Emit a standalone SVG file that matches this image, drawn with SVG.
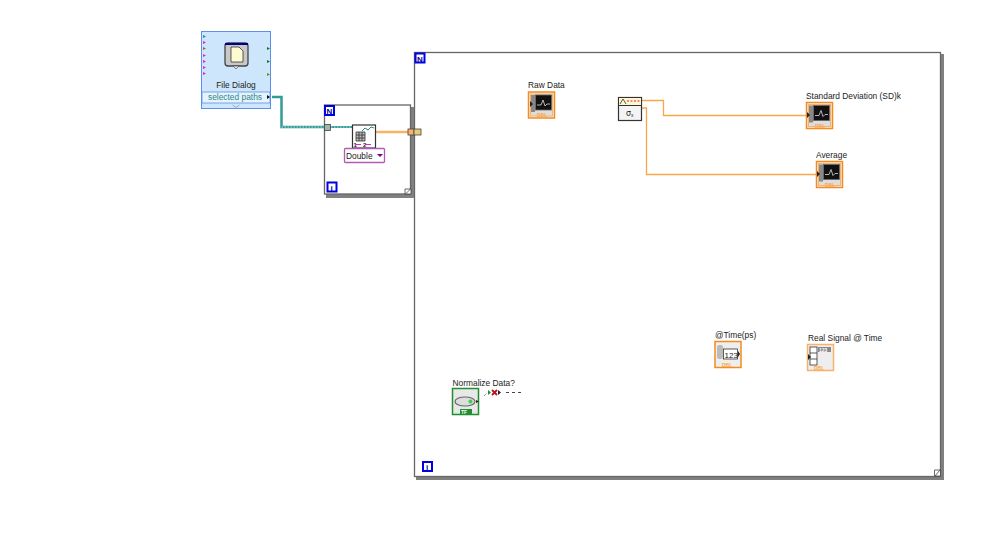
<svg xmlns="http://www.w3.org/2000/svg" width="999" height="539" viewBox="0 0 999 539">
<style>
text{font-family:"Liberation Sans",Arial,sans-serif;font-size:8.4px;fill:#222}
.w{fill:none;stroke:#f9a64a;stroke-width:1.3}
.frame{fill:#fff;stroke:#666;stroke-width:1.300}
.shade{fill:#808080}
.lbl{fill:#fff;stroke:#0000e0;stroke-width:2}
.lt{font-family:"Liberation Sans",Arial,sans-serif;font-size:8px;font-weight:bold;fill:#0000a0}
.ob{fill:#eee;stroke:#f58b1f;stroke-width:1.5}
.ob2{fill:#ddd;stroke:#f9b26a;stroke-width:1}
.screen{fill:#111;stroke:#666;stroke-width:.8}
.tr{fill:none;stroke:#ddd;stroke-width:.8}
.tf{font-size:5px;font-weight:bold;fill:#fff}
.pal{fill:#888}
</style>
<rect width="999" height="539" fill="#fff"/>

<g id="loop-outer">
<rect class="shade" x="416" y="54" width="528" height="426"/>
<rect class="frame" x="414.5" y="52.5" width="526" height="424"/>
<rect class="lbl" x="415.5" y="53.5" width="9" height="9"/><text class="lt" x="417" y="61.500">N</text>
<rect class="lbl" x="423" y="462" width="9" height="9"/><text class="lt" x="426" y="470">i</text>
<path d="M934.500 476V470H940.500V476Z" fill="#fff" stroke="#444" stroke-width=".8"/><path d="M935 476L940 470" stroke="#444" stroke-width=".8"/>
</g>

<g id="loop-inner">
<rect class="shade" x="326" y="107" width="88" height="91"/>
<rect class="frame" x="324.500" y="105" width="86" height="89"/>
<rect class="lbl" x="325" y="106" width="9" height="9"/><text class="lt" x="326.500" y="114">N</text>
<rect class="lbl" x="327.500" y="182.500" width="9" height="9"/><text class="lt" x="330.500" y="190.500">i</text>
<path d="M405 194V189H411V194Z" fill="#fff" stroke="#444" stroke-width=".8"/><path d="M405.500 194L410.500 189" stroke="#444" stroke-width=".8"/>
</g>

<g id="connectors">
<path d="M272 97H281.500V127H325" fill="none" stroke="#2f9c95" stroke-width="2.500"/>
<path d="M281.500 127H325" fill="none" stroke="#fff" stroke-width=".7" stroke-dasharray="1.500 1.500"/>
<path d="M328 127H352" fill="none" stroke="#2f9c95" stroke-width="2"/>
<path d="M328 127H352" fill="none" stroke="#fff" stroke-width=".7" stroke-dasharray="1.500 1.500"/>
<path d="M375 132H408" fill="none" stroke="#f9b26a" stroke-width="2.500"/>
<path class="w" d="M641 100.500H663.500V115.500H806"/>
<path class="w" d="M641 108H646.500V174.500H816"/>
<path d="M484 396L487 393" stroke="#555" stroke-dasharray="1 1" fill="none"/>
<path d="M506 392.500H522" stroke="#444" stroke-dasharray="3 3" fill="none"/>
</g>

<g id="file-dialog">
<rect x="201.500" y="31.500" width="69" height="77" fill="#cde6fb" stroke="#5b8fe8"/>
<rect x="202" y="92" width="68" height="11" fill="#e6f3fd" stroke="#5b8fe8" stroke-width=".8"/>
<path d="M232.500 105L236 107.500L239.500 105" fill="none" stroke="#99a" stroke-width=".8"/>
<rect x="225" y="43" width="23" height="23" rx="3" fill="#c8c8c8" stroke="#444" stroke-width="1.300"/>
<rect x="225" y="43" width="23" height="2" fill="#00008b"/>
<path d="M231 47H239L243 51V62H231Z" fill="#fffbd0" stroke="#333" stroke-width=".8"/>
<path d="M233 66L236 69L239 66Z" fill="#ddd" stroke="#444" stroke-width=".6"/>
<path d="M203 35l3 1.500l-3 1.500Z" fill="#1d8f95"/>
<g fill="#e81fd8"><path d="M203 41l3 1.500l-3 1.500Z"/><path d="M203 54l3 1.500l-3 1.500Z"/><path d="M203 60l3 1.500l-3 1.500Z"/><path d="M203 66l3 1.500l-3 1.500Z"/><path d="M203 72l3 1.500l-3 1.500Z"/></g>
<path d="M203 47l3 1.500l-3 1.500Z" fill="#8a7a10"/>
<path d="M267 47l3 1.500l-3 1.500ZM267 60l3 1.500l-3 1.500Z" fill="#0a7a20"/>
<path d="M267 73l3 1.500l-3 1.500Z" fill="#8a7a10"/>
<text x="236" y="88" text-anchor="middle">File Dialog</text>
<text x="235" y="100" text-anchor="middle" style="fill:#2a8a88">selected paths</text>
<path d="M267 95l3 2l-3 2Z" fill="#111"/>
</g>

<g id="tunnel-in"><rect x="324.500" y="124.500" width="6" height="6" fill="#9db8a8" stroke="#444" stroke-width=".8"/></g>

<g id="read-file">
<rect x="352.500" y="125" width="23" height="23" fill="#fff" stroke="#333" stroke-width="1.200"/>
<rect x="356" y="132" width="9" height="9" fill="#bbb"/>
<path d="M356 132h9v9h-9ZM356 135h9M356 138h9M359 132v9M362 132v9" fill="none" stroke="#333" stroke-width=".8"/>
<path d="M362 131l3-3l3 2l3-3l3 1" fill="none" stroke="#2a8a88"/>
<text x="353.500" y="147" style="font-size:6px;font-weight:bold">1</text><text x="363" y="147" style="font-size:6px;font-weight:bold">2</text>
<path d="M356 144.500h5M366 144.500h5" stroke="#e81fd8"/>
</g>
<g id="double-selector">
<rect x="344.500" y="148.500" width="40" height="14" rx="1" fill="#fff" stroke="#b05cb0" stroke-width="1.300"/>
<text x="346" y="158.500">Double</text>
<path d="M377 154h6l-3 3Z" fill="#800080"/>
</g>
<g id="tunnel-out">
<rect x="408" y="129" width="6" height="6" fill="#f9b26a" stroke="#444" stroke-width=".8"/>
<rect x="414" y="129" width="7" height="6" fill="#e8c87a" stroke="#444" stroke-width=".8"/>
</g>

<g id="raw-data">
<text x="528" y="88">Raw Data</text>
<rect class="ob" x="528.500" y="92" width="26" height="26"/><rect class="ob2" x="530.500" y="94" width="22" height="22"/>
<rect class="pal" x="531" y="95" width="4" height="17"/>
<rect class="screen" x="535.500" y="95" width="16" height="15"/><path class="tr" d="M537 105l4 0l2-5l2 6l2-2l3 0"/>
<text class="tf" x="537" y="117" style="fill:#f9a64a">DBL</text>
<path d="M530 101l3 3l-3 3Z" fill="#222"/>
</g>

<g id="stats">
<rect x="618.500" y="97.500" width="23" height="23" fill="#f4f4f4" stroke="#333" stroke-width="1.200"/>
<rect x="619" y="98" width="22" height="7" fill="#fdf6d0"/>
<path d="M619 105.500H641" stroke="#333"/>
<path d="M620 104l3-5l3 5" fill="none" stroke="#333" stroke-width=".8"/>
<path d="M627 101h13" stroke="#e02020" stroke-dasharray="2 1.500"/>
<text x="626" y="116" style="font-size:8px;font-family:'DejaVu Sans',sans-serif">σ</text><text x="631" y="117" style="font-size:5px">x</text>
</g>

<g id="std-dev">
<text x="806" y="99">Standard Deviation (SD)k</text>
<rect class="ob" x="806.500" y="102.500" width="26" height="26"/><rect class="ob2" x="808.500" y="104.500" width="22" height="22"/>
<rect class="pal" x="809" y="105.500" width="4" height="17"/>
<rect class="screen" x="813.500" y="105.500" width="16" height="15"/><path class="tr" d="M815 115.500l4 0l2-5l2 6l2-2l3 0"/>
<text class="tf" x="815" y="127.500" style="fill:#f9a64a">DBL</text>
<path d="M807 112l3 3l-3 3Z" fill="#222"/>
</g>

<g id="average">
<text x="816" y="158">Average</text>
<rect class="ob" x="816.500" y="161.500" width="26" height="26"/><rect class="ob2" x="818.500" y="163.500" width="22" height="22"/>
<rect class="pal" x="819" y="164.500" width="4" height="17"/>
<rect class="screen" x="823.500" y="164.500" width="16" height="15"/><path class="tr" d="M825 174.500l4 0l2-5l2 6l2-2l3 0"/>
<text class="tf" x="825" y="186.500" style="fill:#f9a64a">DBL</text>
<path d="M817 171l3 3l-3 3Z" fill="#222"/>
</g>

<g id="time-ps">
<text x="715" y="338">@Time(ps)</text>
<rect class="ob" x="715" y="341.500" width="26" height="26"/>
<rect x="717" y="345" width="6" height="14" rx="2" fill="#bbb"/>
<rect x="723.500" y="349" width="14" height="10" fill="#fff" stroke="#333" stroke-width=".8"/>
<text x="724.500" y="357.500" style="font-size:8px">123</text>
<path d="M738 351l2 3l-2 3Z" fill="#222"/>
<text class="tf" x="722" y="366.500" style="fill:#f9a64a">DBL</text>
</g>

<g id="real-signal">
<text x="808" y="341">Real Signal @ Time</text>
<rect x="807.500" y="344.500" width="26" height="26" fill="#eee" stroke="#f9b26a" stroke-width="1.500"/>
<rect x="810" y="347" width="7" height="18" fill="#fff" stroke="#333" stroke-width=".8"/>
<path d="M810 353h7M810 359h7" stroke="#333" stroke-width=".8"/>
<rect x="818" y="347" width="13" height="5" fill="#888"/>
<text x="819" y="351.500" style="font-size:5px;font-weight:bold;fill:#fff">123</text>
<path d="M808 354l3 3l-3 3Z" fill="#222"/>
<text class="tf" x="814" y="369.500" style="fill:#f9a64a">DBL</text>
</g>

<g id="normalize">
<text x="452.500" y="385.500">Normalize Data?</text>
<rect x="452.500" y="388.500" width="26" height="26" fill="#e8e8e8" stroke="#1f8f2f" stroke-width="1.500"/>
<ellipse cx="465" cy="401.500" rx="10" ry="4.500" fill="#ddd" stroke="#666" stroke-width="1.200"/>
<circle cx="470.500" cy="401.500" r="2" fill="#3ad24a"/>
<rect x="460" y="409" width="12" height="5" fill="#1f8f2f"/>
<text class="tf" x="461" y="413.500">TF</text>
<path d="M476 400l3 1.500l-3 1.500Z" fill="#222"/>
<path d="M488 390l3 2.500l-3 2.500Z" fill="#1f8f2f"/>
<path d="M492 390l5 5M497 390l-5 5" stroke="#c01020" stroke-width="1.800"/>
<path d="M498 390l3 2.500l-3 2.500Z" fill="#222"/>
</g>
</svg>
